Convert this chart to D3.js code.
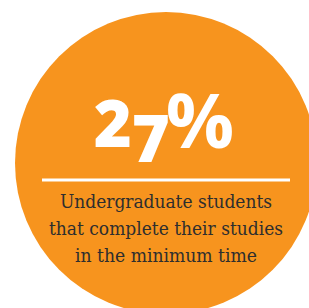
<!DOCTYPE html>
<html>
<head>
<meta charset="utf-8">
<script src="https://cdn.jsdelivr.net/npm/d3@7"></script>
<style>
  html, body { margin: 0; padding: 0; background: #fff; }
  svg { display: block; }
</style>
</head>
<body>
<div id="viz-stat"></div>
<script>
(function () {
  const orange = '#F7941E';
  const textColor = '#2e2e2e';

  // data
  const statValue = [27];
  const statUnit = ['%'];
  const labelLines = [
    'Undergraduate students',
    'that complete their studies',
    'in the minimum time'
  ];

  const width = 309;
  const height = 308;

  const svg = d3.select('#viz-stat')
    .append('svg')
    .attr('width', width)
    .attr('height', height);

  // circle scale: a share of 1 fills the whole disc area
  const radius = d3.scaleSqrt().domain([0, 1]).range([0, 151]);

  svg.append('circle')
    .attr('cx', 166)
    .attr('cy', 163)
    .attr('r', radius(1))
    .style('fill', orange);

  // big number, old style figures faked with tspans
  const big = svg.append('text')
    .attr('x', 164)
    .attr('y', 147)
    .style('font-family', '"Open Sans", sans-serif')
    .style('font-weight', 800)
    .style('fill', '#fff')
    .style('text-anchor', 'middle');

  const digits = String(statValue[0]).split('');
  digits.forEach(function (d) {
    big.append('tspan')
      .text(d)
      .attr('dy', d === '7' ? 15 : 0)
      .style('font-size', '65px');
  });

  big.append('tspan')
    .text(statUnit[0])
    .attr('dy', digits.indexOf('7') >= 0 ? -14 : 0)
    .attr('dx', -4)
    .style('font-size', '76px')
    .style('font-weight', 700);

  svg.append('line')
    .attr('x1', 42)
    .attr('x2', 290)
    .attr('y1', 180)
    .attr('y2', 180)
    .attr('stroke', '#fff')
    .attr('stroke-width', 3);

  const lineY = d3.scaleLinear().domain([0, 1]).range([208, 235]);
  const lineWidths = [212, 234, 182];

  svg.selectAll('text.label')
    .data(labelLines)
    .enter()
    .append('text')
    .attr('class', 'label')
    .attr('x', 166)
    .attr('y', function (d, i) { return lineY(i); })
    .attr('textLength', function (d, i) { return lineWidths[i]; })
    .attr('lengthAdjust', 'spacingAndGlyphs')
    .text(function (d) { return d; })
    .style('font-family', '"DejaVu Serif Condensed", "DejaVu Serif", serif')
    .style('font-size', '18.5px')
    .style('fill', textColor)
    .style('text-anchor', 'middle');
}());
</script>
</body>
</html>
